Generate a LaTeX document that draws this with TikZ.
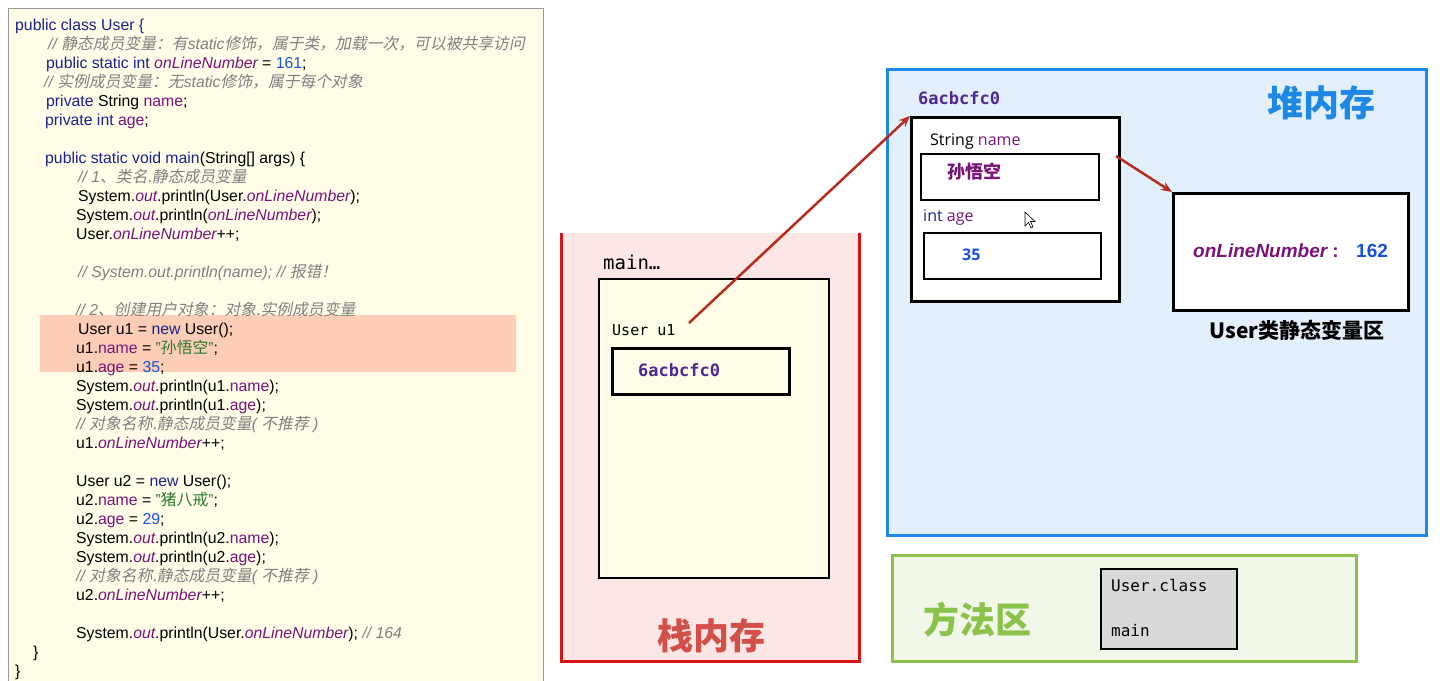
\documentclass[tikz,border=0pt]{standalone}
\usepackage{fontspec}
\usetikzlibrary{arrows.meta}
\setmainfont{Liberation Sans}
\newfontfamily\cjk{Noto Sans CJK SC}
\newfontfamily\cjkit[FakeSlant=0.2]{Noto Sans CJK SC}
\newfontfamily\monof{DejaVu Sans Mono}
\newfontfamily\sansf{Open Sans}
\definecolor{kwc}{RGB}{25,35,140}
\definecolor{fldc}{RGB}{120,20,120}
\definecolor{numc}{RGB}{25,80,220}
\definecolor{cmtc}{RGB}{128,128,128}
\definecolor{strc}{RGB}{40,120,40}
\definecolor{codebg}{RGB}{255,253,232}
\definecolor{hilite}{RGB}{253,205,182}
\definecolor{stackbg}{RGB}{253,230,230}
\definecolor{stackred}{RGB}{214,20,20}
\definecolor{stacktxt}{RGB}{210,80,72}
\definecolor{heapbg}{RGB}{227,240,252}
\definecolor{heapblue}{RGB}{30,136,229}
\definecolor{methbg}{RGB}{241,248,233}
\definecolor{methgreen}{RGB}{139,195,74}
\definecolor{cream}{RGB}{255,253,232}
\definecolor{ptrc}{RGB}{180,45,30}
\definecolor{addrc}{RGB}{80,40,150}
\newcommand\kw[1]{\textcolor{kwc}{#1}}
\newcommand\fld[1]{\textcolor{fldc}{\itshape #1}}
\newcommand\pf[1]{\textcolor{fldc}{#1}}
\newcommand\nm[1]{\textcolor{numc}{#1}}
\newcommand\cm[1]{\textcolor{cmtc}{\itshape #1}}
\newcommand\zh[1]{{\cjkit #1}}
\newcommand\sq[1]{\textcolor{strc}{"{\cjk #1}"}}
\tikzset{
  code/.style={anchor=base west, inner sep=0pt, font=\fontsize{15.8}{19}\selectfont},
  box/.style={draw=black, anchor=north west, inner sep=0pt},
  ptr/.style={draw=ptrc, line width=2.5pt, -{Stealth[length=11pt,width=9pt]}},
  big/.style={inner sep=0pt, font=\cjk\bfseries\fontsize{36}{36}\selectfont},
  mono/.style={anchor=west, inner sep=0pt, font=\monof\fontsize{15}{15}\selectfont},
}
\begin{document}
\begin{tikzpicture}[x=1pt,y=-1pt]
\useasboundingbox (0,0) rectangle (1450,680);
\fill[white] (0,0) rectangle (1450,680);
% code panel
\draw[fill=codebg, draw=gray!80, line width=1pt] (8,8) rectangle (543,690);
\fill[hilite] (40,315) rectangle (516,372);
\node[code] (l1) at (15,30) {\kw{public class User \{}};
\node[code] (l2) at (48,49) {\cm{// \zh{静态成员变量：有}static\zh{修饰，属于类，加载一次，可以被共享访问}}};
\node[code] (l3) at (46,68) {\kw{public static int} \fld{onLineNumber} = \nm{161};};
\node[code] (l4) at (44,87) {\cm{// \zh{实例成员变量：无}static\zh{修饰，属于每个对象}}};
\node[code] (l5) at (46,106) {\kw{private} String \pf{name};};
\node[code] (l6) at (45,125) {\kw{private int} \pf{age};};
\node[code] (l8) at (45,163) {\kw{public static void main}(String[] args) \{};
\node[code] (l9) at (78,182) {\cm{// 1\zh{、类名.静态成员变量}}};
\node[code] (l10) at (78,201) {System.\fld{out}.println(User.\fld{onLineNumber});};
\node[code] (l11) at (76,220) {System.\fld{out}.println(\fld{onLineNumber});};
\node[code] (l12) at (76,239) {User.\fld{onLineNumber}++;};
\node[code] (l14) at (78,277) {\cm{// System.out.println(name); // \zh{报错！}}};
\node[code] (l16) at (76,315) {\cm{// 2\zh{、创建用户对象：对象.实例成员变量}}};
\node[code] (l17) at (78,334) {User u1 = \kw{new} User();};
\node[code] (l18) at (76,353) {u1.\pf{name} = \sq{孙悟空};};
\node[code] (l19) at (76,372) {u1.\pf{age} = \nm{35};};
\node[code] (l20) at (76,391) {System.\fld{out}.println(u1.\pf{name});};
\node[code] (l21) at (76,410) {System.\fld{out}.println(u1.\pf{age});};
\node[code] (l22) at (76,429) {\cm{// \zh{对象名称.静态成员变量}( \zh{不推荐} )}};
\node[code] (l23) at (76,448) {u1.\fld{onLineNumber}++;};
\node[code] (l25) at (76,486) {User u2 = \kw{new} User();};
\node[code] (l26) at (76,505) {u2.\pf{name} = \sq{猪八戒};};
\node[code] (l27) at (76,524) {u2.\pf{age} = \nm{29};};
\node[code] (l28) at (76,543) {System.\fld{out}.println(u2.\pf{name});};
\node[code] (l29) at (76,562) {System.\fld{out}.println(u2.\pf{age});};
\node[code] (l30) at (76,581) {\cm{// \zh{对象名称.静态成员变量}( \zh{不推荐} )}};
\node[code] (l31) at (76,600) {u2.\fld{onLineNumber}++;};
\node[code] (l33) at (76,638) {System.\fld{out}.println(User.\fld{onLineNumber}); \cm{// 164}};
\node[code] (l34) at (33,657) {\}};
\node[code] (l35) at (15,676) {\}};
% stack
\fill[stackbg] (561,233) rectangle (859,661);
\draw[stackred, line width=3pt] (561,233) -- (561,661) -- (859,661) -- (859,233);
\node[mono, font=\monof\fontsize{19}{19}\selectfont] (mainlbl) at (603,262) {main…};
\node[box, fill=cream, line width=1.5pt, minimum width=230pt, minimum height=299pt] (frame) at (598,278) {};
\node[mono] (u1lbl) at (612,330) {User u1};
\node[box, fill=cream, line width=2.5pt, minimum width=177pt, minimum height=46pt] (u1box) at (611,347) {};
\node[mono, font=\monof\bfseries\fontsize{17}{17}\selectfont, text=addrc] (u1val) at (638,370) {6acbcfc0};
\node[big, text=stacktxt] (stacklbl) at (711,636) {栈内存};
\coordinate (u1ptr) at (689,323);
% heap
\draw[fill=heapbg, draw=heapblue, line width=3pt] (887,69) rectangle (1426,535);
\node[big, text=heapblue] (heaplbl) at (1321,103) {堆内存};
\node[mono, font=\monof\bfseries\fontsize{17}{17}\selectfont, text=addrc] (objaddr) at (918,98) {6acbcfc0};
\node[box, fill=white, line width=3pt, minimum width=208pt, minimum height=184pt] (obj) at (910,116) {};
\node[anchor=west, inner sep=0pt, font=\sansf\fontsize{16}{16}\selectfont] (namelbl) at (930,142) {String \textcolor{fldc}{name}};
\node[box, fill=white, line width=2pt, minimum width=178pt, minimum height=46pt] (namebox) at (920,153) {};
\node[anchor=west, inner sep=0pt, font=\cjk\bfseries\fontsize{18}{18}\selectfont, text=fldc] (nameval) at (947,172) {孙悟空};
\node[anchor=west, inner sep=0pt, font=\sansf\fontsize{16}{16}\selectfont] (agelbl) at (923,218) {\textcolor{kwc}{int} \textcolor{fldc}{age}};
\node[box, fill=white, line width=2pt, minimum width=177pt, minimum height=46pt] (agebox) at (923,232) {};
\node[anchor=west, inner sep=0pt, font=\sansf\bfseries\fontsize{16}{16}\selectfont, text=numc] (ageval) at (962,255) {35};
\node[box, fill=white, line width=3pt, minimum width=235pt, minimum height=117pt] (static) at (1172,192) {};
\node[anchor=west, inner sep=0pt, font=\bfseries\itshape\fontsize{19}{19}\selectfont, text=fldc] (staticvar) at (1193,251) {onLineNumber\hspace{5pt}{\upshape :}};
\node[anchor=west, inner sep=0pt, font=\bfseries\fontsize{19}{19}\selectfont, text=numc] (staticval) at (1356,251) {162};
\node[inner sep=0pt, font=\cjk\bfseries\fontsize{21}{21}\selectfont] (staticlbl) at (1297,330) {User类静态变量区};
\coordinate (nameptr) at (1116,156);
% mouse cursor
\draw[fill=white, draw=black, line width=0.6pt] (1025,212) -- (1025,226) -- (1028.5,222.5) -- (1031,228) -- (1033,227) -- (1030.5,221.5) -- (1035,221.5) -- cycle;
% method area
\draw[fill=methbg, draw=methgreen, line width=3pt] (892,555) rectangle (1356,661);
\node[big, text=methgreen] (methlbl) at (977,620) {方法区};
\node[box, fill=gray!30, line width=1.5pt, minimum width=136pt, minimum height=80pt] (classbox) at (1100,568) {};
\node[mono, font=\monof\fontsize{16}{16}\selectfont] (classname) at (1111,585) {User.class};
\node[mono, font=\monof\fontsize{16}{16}\selectfont] (classmain) at (1111,631) {main};
% pointers
\draw[ptr] (u1ptr) -- (obj.north west);
\draw[ptr] (nameptr) -- (static.north west);
\end{tikzpicture}
\end{document}
